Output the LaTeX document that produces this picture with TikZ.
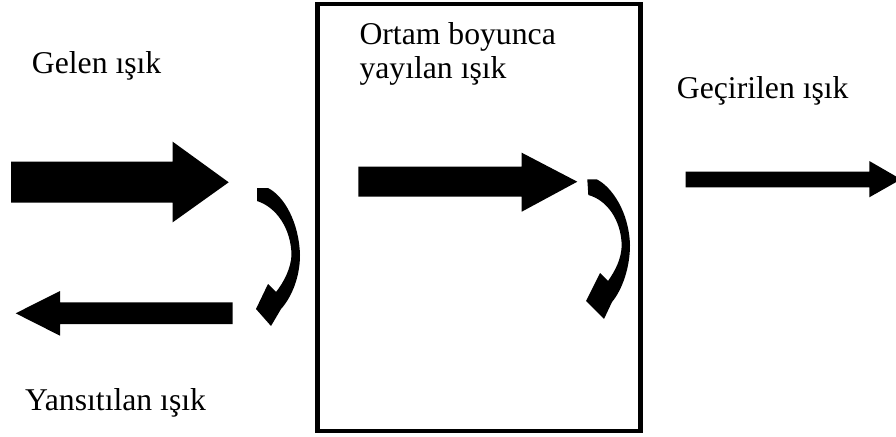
\documentclass[tikz,border=0pt]{standalone}
\usepackage{fontspec}
\setmainfont{Liberation Serif}
\begin{document}
\begin{tikzpicture}[x=1pt,y=-1pt,
  lbl/.style={inner sep=0pt, font=\fontsize{31.7}{33.3}\selectfont},
  blk/.style={fill=black, draw=none},
  medium/.style={draw=black, line width=4.5pt}]
\useasboundingbox (0,0) rectangle (896,436);
\clip (0,0) rectangle (896,436);
% medium box
\draw[medium] (317.5,4) rectangle (640.5,431);
% labels
\node[lbl, anchor=base west] (gelen) at (31.7,73.3) {Gelen ışık};
\node[lbl, anchor=base west] (yans) at (25,410) {Yansıtılan ışık};
\node[lbl, anchor=base west] (gecir) at (676.7,98.3) {Geçirilen ışık};
\node[lbl, anchor=base west] (ortam1) at (359.3,45) {Ortam boyunca};
\node[lbl, anchor=base west] (ortam2) at (359.3,78.3) {yayılan ışık};
% incident arrow
\fill[blk] (11,161.7) -- (172.7,161.7) -- (172.7,141.7) -- (228.7,182.3)
  -- (172.7,222.3) -- (172.7,202.7) -- (11,202.7) -- cycle;
% reflected arrow
\fill[blk] (232.7,302.3) -- (60,302.3) -- (60,291) -- (15.7,313.3)
  -- (60,335.7) -- (60,324) -- (232.7,324) -- cycle;
% propagating arrow
\fill[blk] (358.3,166.7) -- (521.7,166.7) -- (521.7,152.7) -- (577.3,181.7)
  -- (521.7,211.7) -- (521.7,196.7) -- (358.3,196.7) -- cycle;
% transmitted arrow
\fill[blk] (685.7,171.7) -- (869.3,171.7) -- (869.3,161) -- (901,179.3)
  -- (869.3,197.3) -- (869.3,187.3) -- (685.7,187.3) -- cycle;
% curved arrow 1 (reflection)
\fill[blk] (257,188) -- (268,188)
  .. controls (284,196) and (299,222) .. (300,255)
  .. controls (300,278) and (291,298) .. (281,309)
  -- (271,326) -- (256,309) -- (268,284) -- (276,292)
  .. controls (284,282) and (291,268) .. (291.5,255)
  .. controls (291,228) and (276,207) .. (257,201) -- cycle;
% curved arrow 2 (inside medium)
\fill[blk] (587.3,179.3) -- (596.7,179.3)
  .. controls (612,187) and (629,212) .. (630,245)
  .. controls (630,268) and (622,290) .. (612,302)
  -- (604,319) -- (586,301) -- (600,273) -- (608,281)
  .. controls (615,271) and (621.5,259) .. (621.7,245)
  .. controls (621,220) and (607,200) .. (588.3,195) -- cycle;
\end{tikzpicture}
\end{document}
